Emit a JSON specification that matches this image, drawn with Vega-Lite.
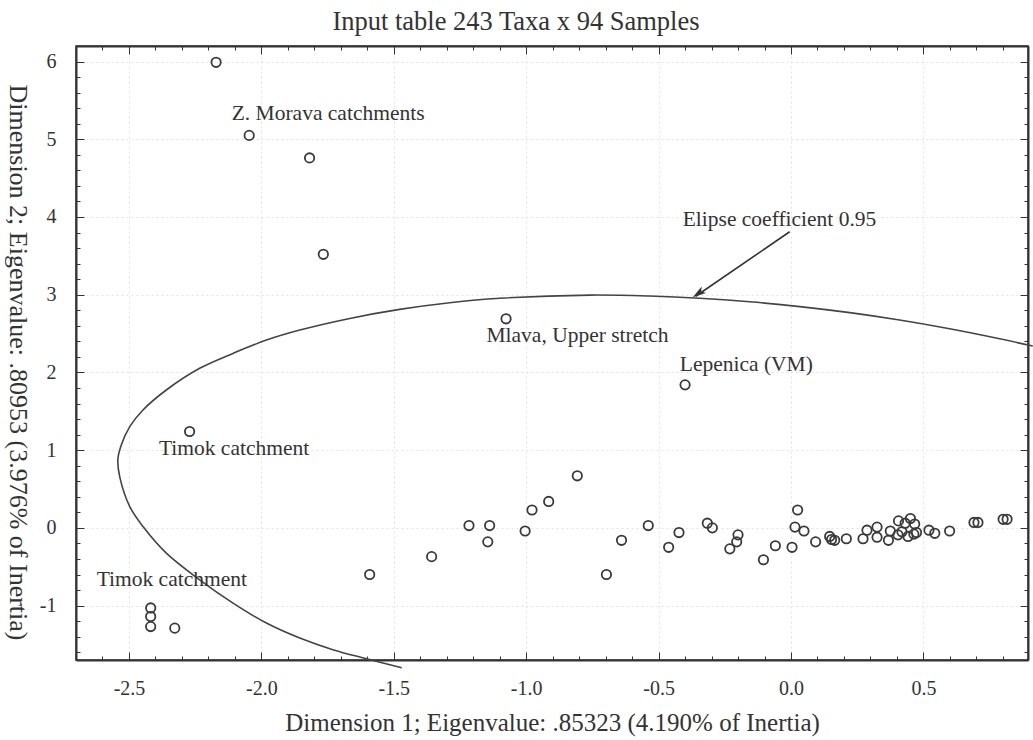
{
  "$schema": "https://vega.github.io/schema/vega-lite/v6.json",
  "autosize": "none",
  "padding": {"left": 76, "top": 46, "right": 5, "bottom": 80},
  "width": 952,
  "height": 614,
  "background": "white",
  "title": {"text": "Input table 243 Taxa x 94 Samples", "font": "Liberation Serif", "fontSize": 26.5, "fontWeight": "normal", "color": "#333", "anchor": "middle", "dx": -36, "offset": 10},
  "config": {
    "view": {"stroke": "#333", "strokeWidth": 1.5},
    "font": "Liberation Serif"
  },
  "datasets": {
    "pts": [
      {"x": -2.171, "y": 5.99}, {"x": -2.046, "y": 5.05}, {"x": -1.818, "y": 4.76}, {"x": -1.766, "y": 3.52},
      {"x": -1.076, "y": 2.69}, {"x": -0.400, "y": 1.84}, {"x": -2.271, "y": 1.24},
      {"x": -2.418, "y": -1.03}, {"x": -2.418, "y": -1.14}, {"x": -2.418, "y": -1.27}, {"x": -2.327, "y": -1.29},
      {"x": -1.591, "y": -0.60},
      {"x": -1.357, "y": -0.37}, {"x": -1.216, "y": 0.03}, {"x": -1.138, "y": 0.03}, {"x": -1.145, "y": -0.18},
      {"x": -1.004, "y": -0.04}, {"x": -0.978, "y": 0.23}, {"x": -0.915, "y": 0.34}, {"x": -0.807, "y": 0.67},
      {"x": -0.697, "y": -0.60}, {"x": -0.640, "y": -0.16}, {"x": -0.539, "y": 0.03}, {"x": -0.462, "y": -0.25},
      {"x": -0.423, "y": -0.06}, {"x": -0.316, "y": 0.06}, {"x": -0.297, "y": 0.00}, {"x": -0.200, "y": -0.09},
      {"x": -0.205, "y": -0.18}, {"x": -0.231, "y": -0.27}, {"x": -0.104, "y": -0.41}, {"x": -0.059, "y": -0.23},
      {"x": 0.004, "y": -0.25}, {"x": 0.025, "y": 0.23}, {"x": 0.015, "y": 0.01},
      {"x": 0.049, "y": -0.04}, {"x": 0.093, "y": -0.18}, {"x": 0.146, "y": -0.11}, {"x": 0.153, "y": -0.15},
      {"x": 0.165, "y": -0.16}, {"x": 0.209, "y": -0.14}, {"x": 0.272, "y": -0.14}, {"x": 0.287, "y": -0.03},
      {"x": 0.325, "y": 0.01}, {"x": 0.325, "y": -0.12}, {"x": 0.368, "y": -0.16}, {"x": 0.375, "y": -0.04},
      {"x": 0.406, "y": 0.09}, {"x": 0.419, "y": -0.05}, {"x": 0.404, "y": -0.09}, {"x": 0.431, "y": 0.06},
      {"x": 0.451, "y": 0.12}, {"x": 0.467, "y": 0.05}, {"x": 0.442, "y": -0.11}, {"x": 0.464, "y": -0.08},
      {"x": 0.474, "y": -0.06}, {"x": 0.521, "y": -0.03}, {"x": 0.543, "y": -0.07}, {"x": 0.599, "y": -0.04},
      {"x": 0.691, "y": 0.07}, {"x": 0.706, "y": 0.07}, {"x": 0.801, "y": 0.11}, {"x": 0.816, "y": 0.11}
    ],
    "ellipse": [
      {"i": 1, "x": -1.470, "y": -1.800}, {"i": 2, "x": -1.603, "y": -1.684}, {"i": 3, "x": -1.730, "y": -1.568},
      {"i": 4, "x": -1.855, "y": -1.418}, {"i": 5, "x": -1.981, "y": -1.225}, {"i": 6, "x": -2.107, "y": -0.968},
      {"i": 7, "x": -2.233, "y": -0.668}, {"i": 8, "x": -2.359, "y": -0.325}, {"i": 9, "x": -2.447, "y": 0.017},
      {"i": 10, "x": -2.497, "y": 0.274}, {"i": 11, "x": -2.535, "y": 0.659}, {"i": 12, "x": -2.542, "y": 0.880},
      {"i": 13, "x": -2.531, "y": 1.048}, {"i": 14, "x": -2.497, "y": 1.302}, {"i": 15, "x": -2.447, "y": 1.517},
      {"i": 16, "x": -2.359, "y": 1.774}, {"i": 17, "x": -2.233, "y": 2.053}, {"i": 18, "x": -2.107, "y": 2.245},
      {"i": 19, "x": -1.981, "y": 2.416}, {"i": 20, "x": -1.855, "y": 2.545}, {"i": 21, "x": -1.666, "y": 2.695},
      {"i": 22, "x": -1.478, "y": 2.811}, {"i": 23, "x": -1.289, "y": 2.897}, {"i": 24, "x": -1.100, "y": 2.954},
      {"i": 25, "x": -0.760, "y": 2.995}, {"i": 26, "x": -0.534, "y": 2.983}, {"i": 27, "x": -0.345, "y": 2.955},
      {"i": 28, "x": -0.156, "y": 2.909}, {"i": 29, "x": 0.033, "y": 2.847}, {"i": 30, "x": 0.222, "y": 2.769},
      {"i": 31, "x": 0.410, "y": 2.674}, {"i": 32, "x": 0.599, "y": 2.562}, {"i": 33, "x": 0.788, "y": 2.433},
      {"i": 34, "x": 0.913, "y": 2.339}
    ],
    "labels": [
      {"x": -2.112, "y": 5.32, "label": "Z. Morava catchments"},
      {"x": -1.150, "y": 2.468, "label": "Mlava, Upper stretch"},
      {"x": -0.420, "y": 2.095, "label": "Lepenica (VM)"},
      {"x": -2.387, "y": 1.011, "label": "Timok catchment"},
      {"x": -2.622, "y": -0.668, "label": "Timok catchment"},
      {"x": -0.409, "y": 3.96, "label": "Elipse coefficient 0.95"}
    ],
    "arrow": [
      {"x": -0.005, "y": 3.81, "x2": -0.360, "y2": 2.98}
    ],
    "head": [
      {"x": -0.349, "y": 3.019}
    ]
  },
  "resolve": {"axis": {"x": "independent", "y": "independent"}},
  "layer": [
    {
      "data": {"name": "pts"},
      "mark": {"type": "point", "shape": "circle", "filled": false, "stroke": "#3a3a3a", "strokeWidth": 1.8, "size": 88, "opacity": 1},
      "encoding": {
        "x": {
          "field": "x", "type": "quantitative",
          "scale": {"domain": [-2.7, 0.895], "nice": false, "zero": false},
          "axis": {
            "orient": "bottom",
            "values": [-2.6,-2.5,-2.4,-2.3,-2.2,-2.1,-2.0,-1.9,-1.8,-1.7,-1.6,-1.5,-1.4,-1.3,-1.2,-1.1,-1.0,-0.9,-0.8,-0.7,-0.6,-0.5,-0.4,-0.3,-0.2,-0.1,0,0.1,0.2,0.3,0.4,0.5,0.6,0.7,0.8],
            "labelExpr": "abs(datum.value*2-round(datum.value*2))<0.001 ? ((datum.value<-0.001?'-':'')+format(abs(datum.value),'.1f')) : ''",
            "tickSize": {"condition": {"test": "abs(datum.value*2-round(datum.value*2))<0.001", "value": -8}, "value": -4},
            "labelPadding": 26,
            "labelFont": "Liberation Serif", "labelFontSize": 20, "labelColor": "#333",
            "labelOverlap": false, "labelFlush": false, "labelBound": false,
            "title": "Dimension 1; Eigenvalue: .85323 (4.190% of Inertia)",
            "titleFont": "Liberation Serif", "titleFontSize": 25, "titleFontWeight": "normal", "titleColor": "#333", "titlePadding": 8,
            "grid": true, "gridColor": "#e2e2e2", "gridDash": [2, 3],
            "gridOpacity": {"condition": {"test": "abs(datum.value*2-round(datum.value*2))<0.001", "value": 1}, "value": 0},
            "domainColor": "#333", "domainWidth": 2, "tickColor": "#333", "tickWidth": 1
          }
        },
        "y": {
          "field": "y", "type": "quantitative",
          "scale": {"domain": [-1.7, 6.2], "nice": false, "zero": false},
          "axis": {
            "orient": "left",
            "values": [-1.6,-1.4,-1.2,-1,-0.8,-0.6,-0.4,-0.2,0,0.2,0.4,0.6,0.8,1,1.2,1.4,1.6,1.8,2,2.2,2.4,2.6,2.8,3,3.2,3.4,3.6,3.8,4,4.2,4.4,4.6,4.8,5,5.2,5.4,5.6,5.8,6],
            "labelExpr": "abs(datum.value-round(datum.value))<0.001 ? ((datum.value<-0.001?'-':'')+format(abs(datum.value),'.0f')) : ''",
            "tickSize": {"condition": {"test": "abs(datum.value-round(datum.value))<0.001", "value": -8}, "value": -4},
            "labelPadding": 28,
            "labelFont": "Liberation Serif", "labelFontSize": 20, "labelColor": "#333",
            "labelOverlap": false, "labelFlush": false, "labelBound": false,
            "title": "Dimension 2; Eigenvalue: .80953 (3.976% of Inertia)",
            "titleFont": "Liberation Serif", "titleFontSize": 26, "titleFontWeight": "normal", "titleColor": "#333",
            "titleAngle": 90, "titleX": -59, "titleY": 316, "titleAlign": "center", "titleBaseline": "middle",
            "grid": true, "gridColor": "#e2e2e2", "gridDash": [2, 3],
            "gridOpacity": {"condition": {"test": "abs(datum.value-round(datum.value))<0.001", "value": 1}, "value": 0},
            "domainColor": "#333", "domainWidth": 2, "tickColor": "#333", "tickWidth": 1
          }
        }
      }
    },
    {
      "data": {"name": "ellipse"},
      "mark": {"type": "line", "interpolate": "catmull-rom", "stroke": "#444", "strokeWidth": 1.6, "clip": false},
      "encoding": {
        "x": {
          "field": "x", "type": "quantitative",
          "scale": {"domain": [-2.7, 0.895], "nice": false, "zero": false},
          "axis": {
            "orient": "top",
            "values": [-2.6,-2.5,-2.4,-2.3,-2.2,-2.1,-2.0,-1.9,-1.8,-1.7,-1.6,-1.5,-1.4,-1.3,-1.2,-1.1,-1.0,-0.9,-0.8,-0.7,-0.6,-0.5,-0.4,-0.3,-0.2,-0.1,0,0.1,0.2,0.3,0.4,0.5,0.6,0.7,0.8],
            "labels": false, "title": null, "grid": false,
            "tickSize": {"condition": {"test": "abs(datum.value*2-round(datum.value*2))<0.001", "value": -8}, "value": -4},
            "domainColor": "#333", "domainWidth": 2, "tickColor": "#333", "tickWidth": 1
          }
        },
        "y": {
          "field": "y", "type": "quantitative",
          "scale": {"domain": [-1.7, 6.2], "nice": false, "zero": false},
          "axis": {
            "orient": "right",
            "values": [-1.6,-1.4,-1.2,-1,-0.8,-0.6,-0.4,-0.2,0,0.2,0.4,0.6,0.8,1,1.2,1.4,1.6,1.8,2,2.2,2.4,2.6,2.8,3,3.2,3.4,3.6,3.8,4,4.2,4.4,4.6,4.8,5,5.2,5.4,5.6,5.8,6],
            "labels": false, "title": null, "grid": false,
            "tickSize": {"condition": {"test": "abs(datum.value-round(datum.value))<0.001", "value": -8}, "value": -4},
            "domainColor": "#333", "domainWidth": 2, "tickColor": "#333", "tickWidth": 1
          }
        },
        "order": {"field": "i", "type": "quantitative"}
      }
    },
    {
      "data": {"name": "labels"},
      "mark": {"type": "text", "align": "left", "baseline": "middle", "font": "Liberation Serif", "fontSize": 21.5, "color": "#333"},
      "encoding": {
        "x": {"field": "x", "type": "quantitative", "scale": {"domain": [-2.7, 0.895], "nice": false, "zero": false}, "axis": null},
        "y": {"field": "y", "type": "quantitative", "scale": {"domain": [-1.7, 6.2], "nice": false, "zero": false}, "axis": null},
        "text": {"field": "label", "type": "nominal"}
      }
    },
    {
      "data": {"name": "arrow"},
      "mark": {"type": "rule", "stroke": "#333", "strokeWidth": 1.6},
      "encoding": {
        "x": {"field": "x", "type": "quantitative", "scale": {"domain": [-2.7, 0.895], "nice": false, "zero": false}, "axis": null},
        "y": {"field": "y", "type": "quantitative", "scale": {"domain": [-1.7, 6.2], "nice": false, "zero": false}, "axis": null},
        "x2": {"field": "x2"},
        "y2": {"field": "y2"}
      }
    },
    {
      "data": {"name": "head"},
      "mark": {"type": "point", "shape": "M0,-1L0.55,0.9L0,0.45L-0.55,0.9Z", "filled": true, "color": "#333", "opacity": 1, "size": 196, "angle": 236, "strokeWidth": 0},
      "encoding": {
        "x": {"field": "x", "type": "quantitative", "scale": {"domain": [-2.7, 0.895], "nice": false, "zero": false}, "axis": null},
        "y": {"field": "y", "type": "quantitative", "scale": {"domain": [-1.7, 6.2], "nice": false, "zero": false}, "axis": null}
      }
    }
  ]
}
